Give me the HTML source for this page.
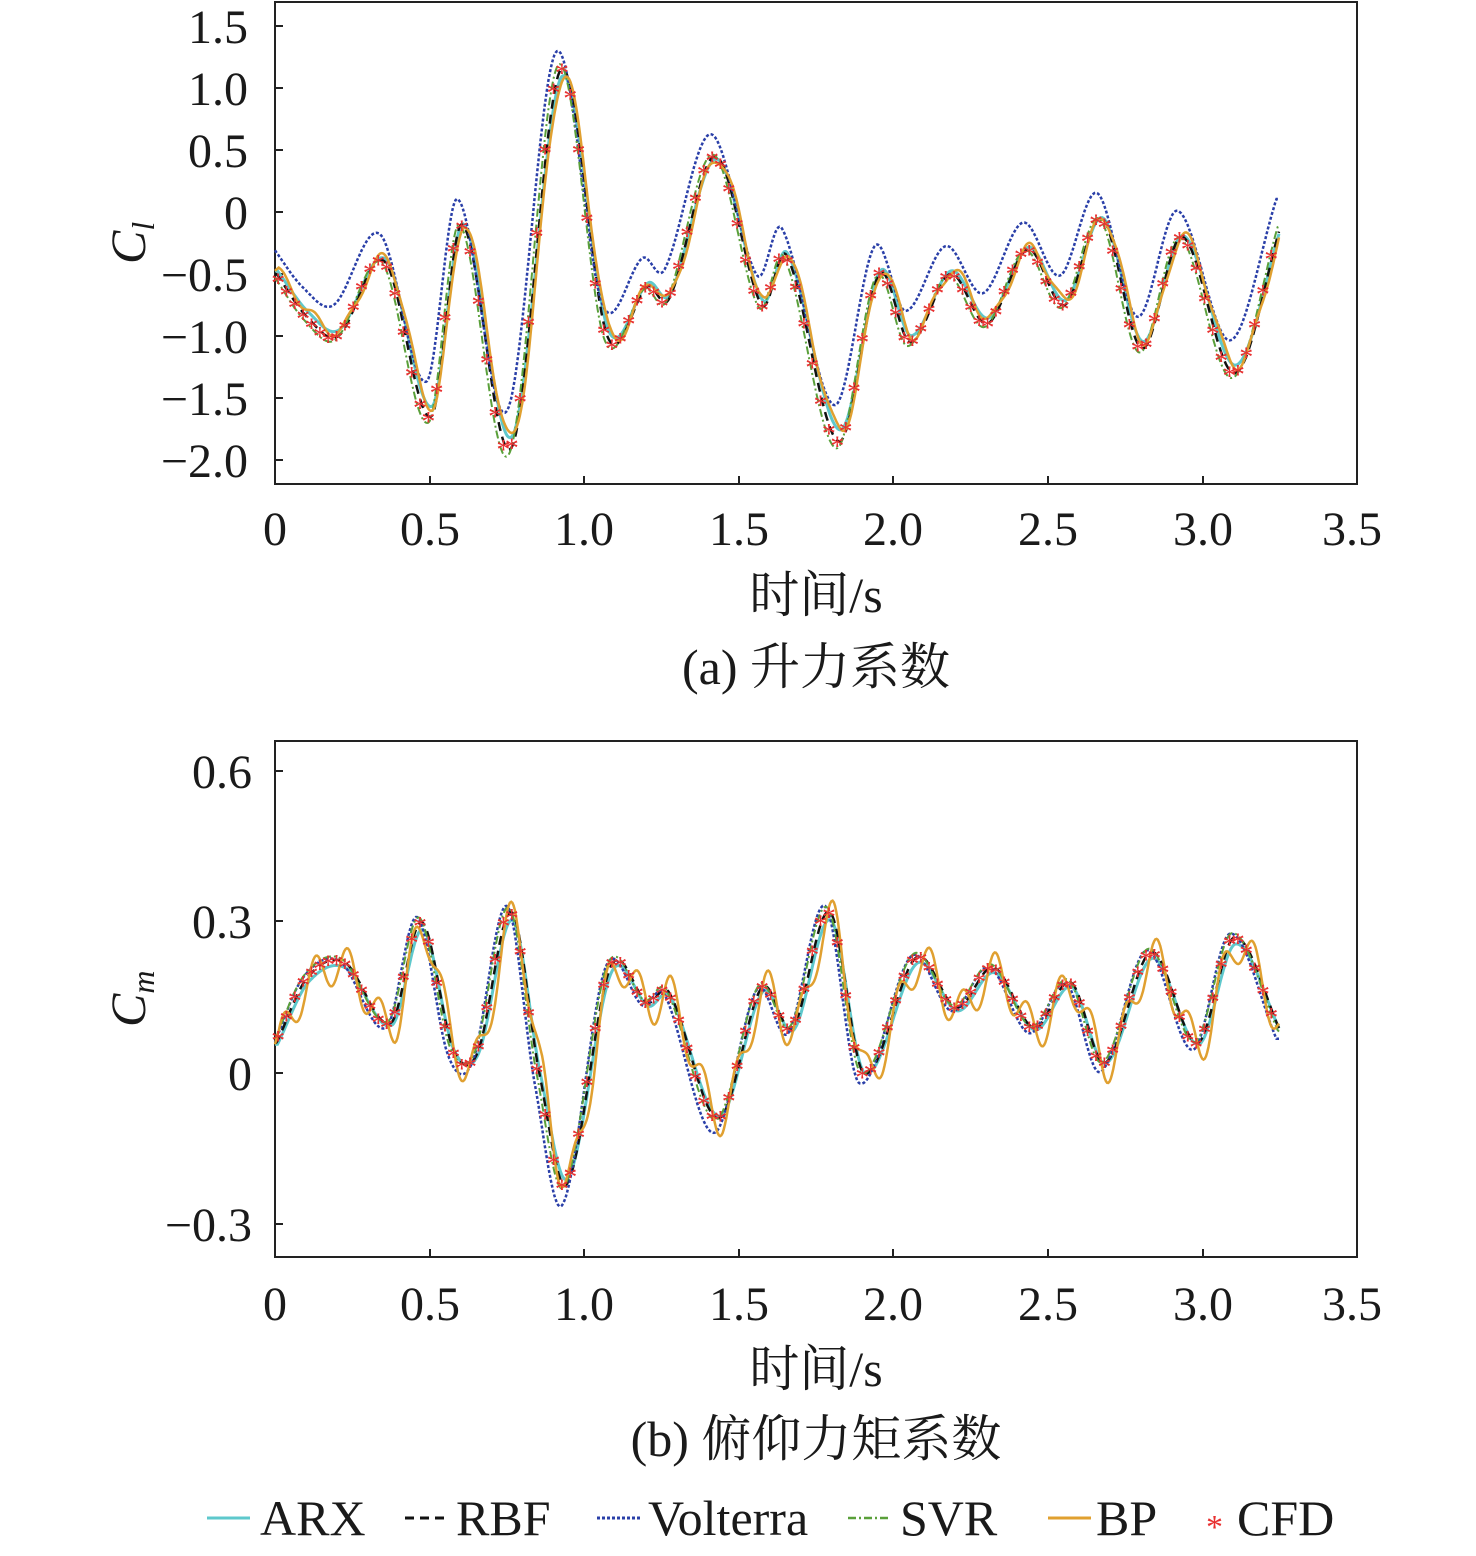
<!DOCTYPE html>
<html><head><meta charset="utf-8">
<style>
html,body{margin:0;padding:0;background:#fff;}
svg text{font-family:"Liberation Serif","Noto Serif CJK SC",serif;fill:#1a1a1a;}
</style></head>
<body>
<svg id="s" width="1476" height="1551" xmlns="http://www.w3.org/2000/svg">
<g font-size="48">
<rect x="275" y="2" width="1082" height="482" fill="none" stroke="#222" stroke-width="2"/>
<g text-anchor="end">
<text x="248" y="43">1.5</text><text x="248" y="105">1.0</text><text x="248" y="167">0.5</text><text x="248" y="229">0</text>
<text x="248" y="291">−0.5</text><text x="248" y="353">−1.0</text><text x="248" y="415">−1.5</text><text x="248" y="477">−2.0</text>
</g>
<g text-anchor="middle">
<text x="275" y="545">0</text><text x="430" y="545">0.5</text><text x="584" y="545">1.0</text><text x="739" y="545">1.5</text>
<text x="893" y="545">2.0</text><text x="1048" y="545">2.5</text><text x="1203" y="545">3.0</text><text x="1352" y="545">3.5</text>
<text x="816" y="612" font-size="50">时间/s</text>
<text x="816" y="684" font-size="50">(a) 升力系数</text>
</g>
<text transform="translate(145,264) rotate(-90)" font-size="50" font-style="italic">C<tspan font-size="32" dy="9">l</tspan></text>
<rect x="275" y="741" width="1082" height="516" fill="none" stroke="#222" stroke-width="2"/>
<g text-anchor="end">
<text x="252" y="788">0.6</text><text x="252" y="938">0.3</text><text x="252" y="1090">0</text><text x="252" y="1241">−0.3</text>
</g>
<g text-anchor="middle">
<text x="275" y="1320">0</text><text x="430" y="1320">0.5</text><text x="584" y="1320">1.0</text><text x="739" y="1320">1.5</text>
<text x="893" y="1320">2.0</text><text x="1048" y="1320">2.5</text><text x="1203" y="1320">3.0</text><text x="1352" y="1320">3.5</text>
<text x="816" y="1386" font-size="50">时间/s</text>
<text x="816" y="1456" font-size="50">(b) 俯仰力矩系数</text>
</g>
<text transform="translate(145,1027) rotate(-90)" font-size="50" font-style="italic">C<tspan font-size="32" dy="9">m</tspan></text>
<g stroke="#222" stroke-width="2">
<path d="M430,484v-8M584,484v-8M739,484v-8M893,484v-8M1048,484v-8M1203,484v-8M275,26h8M275,88h8M275,150h8M275,212h8M275,274h8M275,336h8M275,398h8M275,460h8"/>
<path d="M430,1257v-8M584,1257v-8M739,1257v-8M893,1257v-8M1048,1257v-8M1203,1257v-8M275,771h8M275,921h8M275,1073h8M275,1224h8"/>
</g>
<g font-size="50">
<line x1="207" y1="1518" x2="250" y2="1518" stroke="#5ec8cc" stroke-width="3"/><text x="260" y="1535">ARX</text>
<line x1="405" y1="1518" x2="448" y2="1518" stroke="#111" stroke-width="3" stroke-dasharray="9,6"/><text x="456" y="1535">RBF</text>
<line x1="597" y1="1518" x2="640" y2="1518" stroke="#2a3fa8" stroke-width="3" stroke-dasharray="3,2"/><text x="648" y="1535">Volterra</text>
<line x1="848" y1="1518" x2="891" y2="1518" stroke="#5aa03a" stroke-width="2.5" stroke-dasharray="8,3,2,3"/><text x="900" y="1535">SVR</text>
<line x1="1048" y1="1518" x2="1091" y2="1518" stroke="#e0a030" stroke-width="3"/><text x="1096" y="1535">BP</text>
<text x="1206" y="1538" style="fill:#e83030" font-size="34">*</text><text x="1237" y="1535">CFD</text>
</g>
</g>
<g id="curves"></g>
</svg>
<script>
function cr(pts,t){let i=0;while(i<pts.length-2&&pts[i+1][0]<t)i++;
const p1=pts[i],p2=pts[i+1],p0=pts[Math.max(0,i-1)],p3=pts[Math.min(pts.length-1,i+2)];
const u=(t-p1[0])/(p2[0]-p1[0]);const m1=(p2[1]-p0[1])/(p2[0]-p0[0]||1)*(p2[0]-p1[0]);const m2=(p3[1]-p1[1])/(p3[0]-p1[0]||1)*(p2[0]-p1[0]);
const u2=u*u,u3=u2*u;return (2*u3-3*u2+1)*p1[1]+(u3-2*u2+u)*m1+(-2*u3+3*u2)*p2[1]+(u3-u2)*m2;}
const cl=[[0,-0.5],[0.1,-0.85],[0.2,-1.0],[0.35,-0.4],[0.5,-1.65],[0.6,-0.1],[0.76,-1.9],[0.92,1.15],[1.07,-1.0],[1.2,-0.6],[1.27,-0.7],[1.42,0.45],[1.57,-0.75],[1.65,-0.35],[1.82,-1.85],[1.95,-0.5],[2.05,-1.05],[2.18,-0.5],[2.3,-0.9],[2.43,-0.3],[2.55,-0.75],[2.67,-0.05],[2.8,-1.1],[2.93,-0.2],[3.1,-1.3],[3.25,-0.1]];
const cm=[[0,0.06],[0.1,0.19],[0.22,0.22],[0.37,0.1],[0.47,0.3],[0.57,0.05],[0.65,0.04],[0.76,0.32],[0.85,0.0],[0.94,-0.22],[1.08,0.21],[1.2,0.14],[1.27,0.16],[1.43,-0.09],[1.57,0.17],[1.67,0.09],[1.79,0.32],[1.9,0.0],[2.07,0.23],[2.2,0.13],[2.32,0.21],[2.45,0.09],[2.57,0.18],[2.68,0.02],[2.83,0.24],[2.98,0.06],[3.1,0.27],[3.25,0.08]];
const g=document.getElementById('curves');
function X(t){return 275+t*309.1;}
function path(pts,y0,k,f,sh,col,w,dash){let d='';for(let t=0;t<=3.25;t+=0.004){const v=f(cr(pts,Math.min(3.25,Math.max(0,t-sh))),t);d+=(d?'L':'M')+X(t).toFixed(1)+','+(y0-k*v).toFixed(1);}
g.insertAdjacentHTML('beforeend',`<path d="${d}" fill="none" stroke="${col}" stroke-width="${w}" ${dash?'stroke-dasharray="'+dash+'"':''}/>`);}
function stars(pts,y0,k){let s='';for(let t=0.01;t<=3.25;t+=0.027){const v=cr(pts,t);s+=`<text x="${X(t)-7}" y="${y0-k*v+14}" font-size="28" style="fill:#e83030">*</text>`;}g.insertAdjacentHTML('beforeend',s);}
function draw(pts,y0,k,vol){
path(pts,y0,k,(v)=>v*0.95,0.008,'#5ec8cc',3,'');
path(pts,y0,k,(v)=>v,0.005,'#111',2.5,'9,6');
path(pts,y0,k,(v)=>vol(v),-0.01,'#2a3fa8',2.5,'3,2');
path(pts,y0,k,(v)=>v*1.03,-0.004,'#5aa03a',2,'8,3,2,3');
path(pts,y0,k,(v,t)=>v*0.95+0.04*Math.sin(t*60),0.012,'#e0a030',2.5,'');
stars(pts,y0,k);}
draw(cl,212,124,v=>v*0.95+0.2);
draw(cm,1073,503,v=>v*1.1-0.02);
</script>
</body></html>
